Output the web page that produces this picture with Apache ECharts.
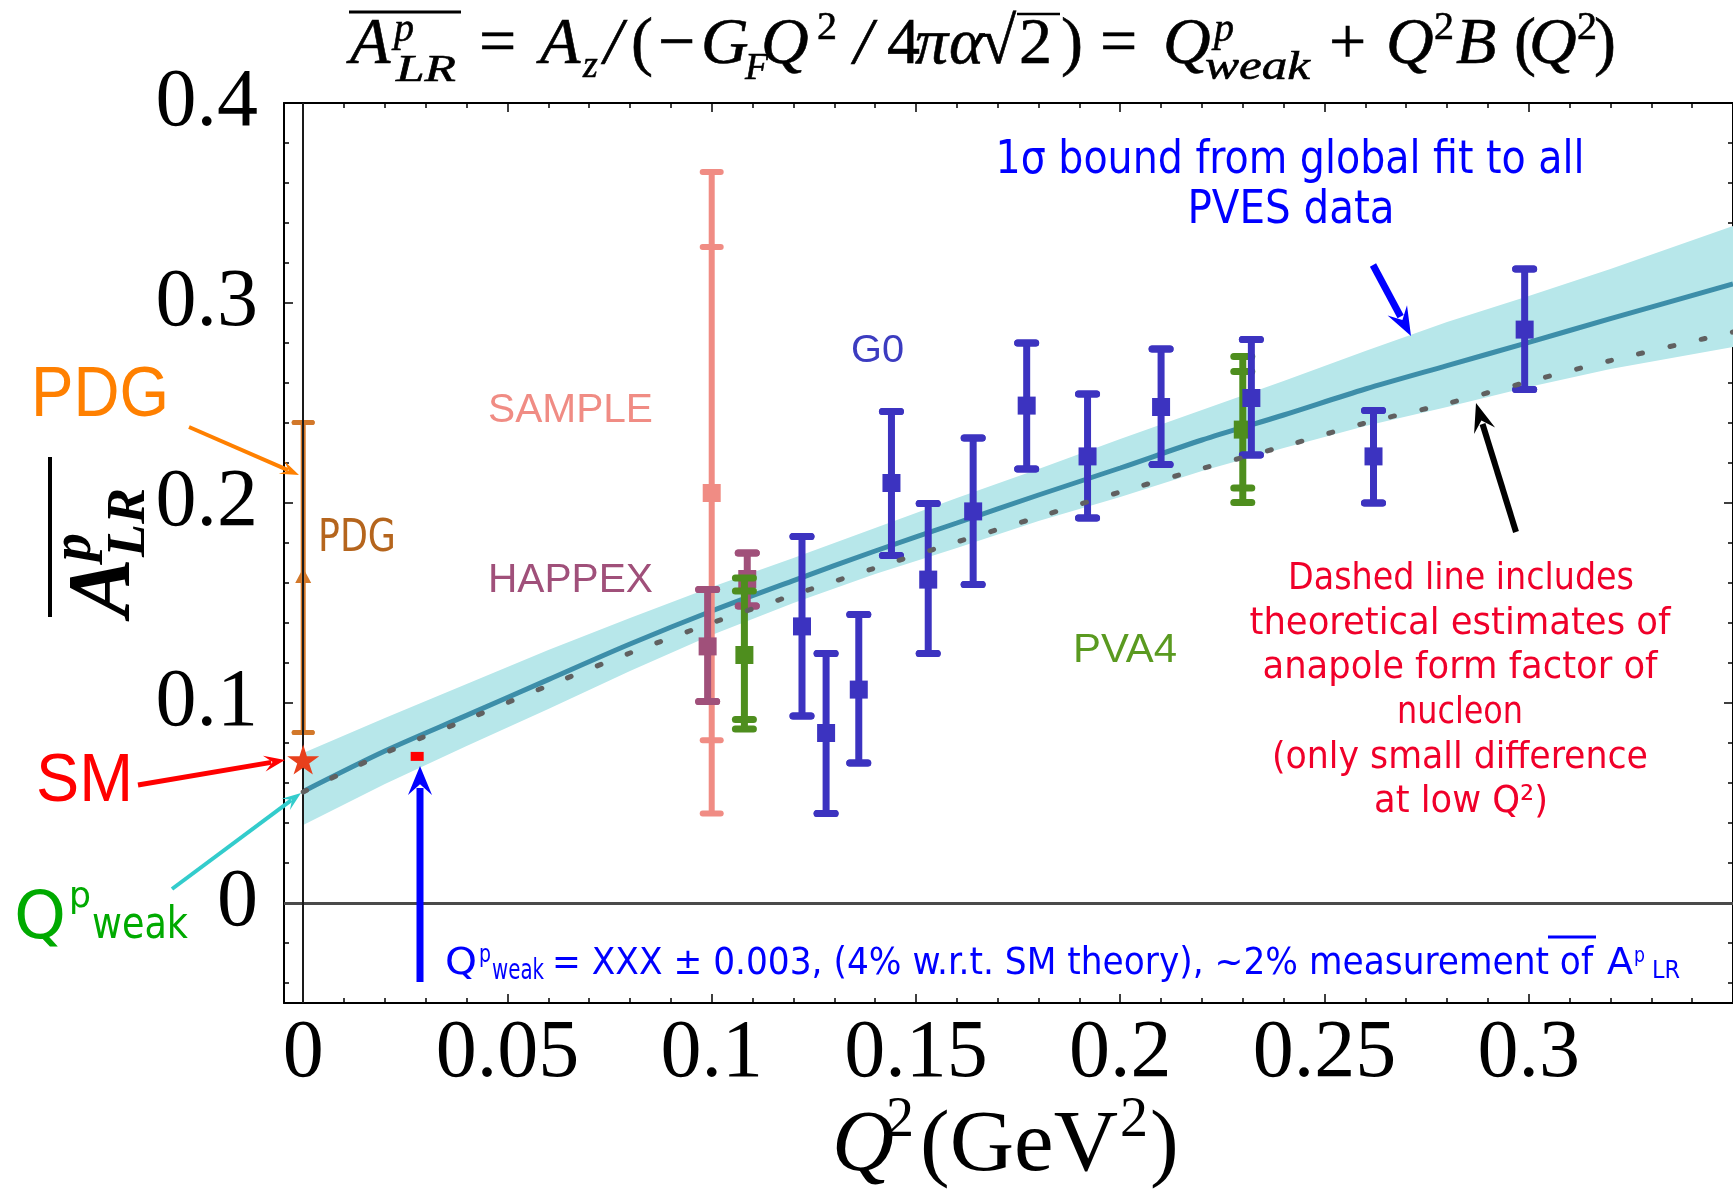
<!DOCTYPE html>
<html><head><meta charset="utf-8">
<script src="https://cdn.jsdelivr.net/npm/echarts@6/dist/echarts.min.js"></script>
<style>html,body{margin:0;padding:0;background:#fff}#c{width:1733px;height:1189px}</style>
</head><body><div id="c"></div>
<script>
// ---------------- data ----------------
const xTickValues = [0, 0.05, 0.1, 0.15, 0.2, 0.25, 0.3];
const xTickLabels = ['0', '0.05', '0.1', '0.15', '0.2', '0.25', '0.3'];
const xMinorTicks = [0.01,0.02,0.03,0.04,0.06,0.07,0.08,0.09,0.11,0.12,0.13,0.14,0.16,0.17,0.18,0.19,0.21,0.22,0.23,0.24,0.26,0.27,0.28,0.29,0.31,0.32,0.33,0.34];
const yTickValues = [0, 0.1, 0.2, 0.3, 0.4];
const yTickLabels = ['0', '0.1', '0.2', '0.3', '0.4'];
const yMinorTicks = [-0.04,-0.02,0.02,0.04,0.06,0.08,0.12,0.14,0.16,0.18,0.22,0.24,0.26,0.28,0.32,0.34,0.36,0.38];

// global fit curve (Q^2, value) and 1 sigma band
const curveX    = [0, 0.02, 0.04, 0.06, 0.08, 0.10, 0.12, 0.14, 0.16, 0.18, 0.20, 0.22, 0.24, 0.26, 0.28, 0.30, 0.32, 0.35];
const fitCenter = [0.0558,0.0760,0.0938,0.1117,0.1295,0.1460,0.1612,0.1760,0.1900,0.2040,0.2175,0.2315,0.2440,0.2570,0.2687,0.2803,0.2922,0.3095];
const fitUpper  = [0.0750,0.0925,0.1095,0.1265,0.1425,0.1580,0.1725,0.1875,0.2025,0.2170,0.2320,0.2465,0.2610,0.2760,0.2905,0.3035,0.3170,0.3385];
const fitLower  = [0.0390,0.0595,0.0785,0.0970,0.1160,0.1340,0.1500,0.1645,0.1775,0.1910,0.2030,0.2160,0.2275,0.2385,0.2480,0.2580,0.2670,0.2780];
// dashed curve with anapole estimates
const anapoleY  = [0.0555,0.0750,0.0917,0.1087,0.1250,0.1400,0.1540,0.1675,0.1805,0.1930,0.2055,0.2172,0.2283,0.2400,0.2497,0.2607,0.2712,0.2855];

// measurements: [Q2, value, lowA, highA, lowB, highB]
const samplePts = [[0.1000, 0.2050, 0.0814, 0.3280, 0.0448, 0.3655]];
const happexPts = [[0.0990, 0.1283, 0.1008, 0.1567], [0.1087, 0.1620, 0.1485, 0.1750]];
const pva4Pts   = [[0.1080, 0.1240, 0.0917, 0.1560, 0.0870, 0.1625], [0.2300, 0.2367, 0.2075, 0.2658, 0.2003, 0.2733]];
const g0Pts = [
  [0.1221, 0.1383, 0.0935, 0.1833],
  [0.1280, 0.0850, 0.0448, 0.1247],
  [0.1360, 0.1067, 0.0700, 0.1442],
  [0.1440, 0.2100, 0.1737, 0.2458],
  [0.1530, 0.1617, 0.1247, 0.1997],
  [0.1640, 0.1958, 0.1592, 0.2325],
  [0.1771, 0.2487, 0.2170, 0.2800],
  [0.1920, 0.2233, 0.1925, 0.2545],
  [0.2100, 0.2480, 0.2192, 0.2770],
  [0.2321, 0.2525, 0.2240, 0.2817],
  [0.2620, 0.2233, 0.2000, 0.2463],
  [0.2990, 0.2867, 0.2567, 0.3170]
];
const pdgPts = [[0, 0.1630, 0.0853, 0.2403]];
const smPoint = [[0, 0.0717]];
const qweakPoint = [[0.0279, 0.0733]];

// ---------------- helpers ----------------
const X_MIN = -0.0047, X_MAX = 0.35, Y_MIN = -0.05, Y_MAX = 0.4;
const SERIF = '"Liberation Serif", "DejaVu Serif", serif';
const SANS = '"Liberation Sans", Arial, sans-serif';
const COMIC = '"DejaVu Sans Condensed", "DejaVu Sans", sans-serif';
const mctx = document.createElement('canvas').getContext('2d');
function fontStr(size, o) { return (o.style || 'normal') + ' ' + (o.weight || 'normal') + ' ' + size + 'px ' + (o.family || SERIF); }
function T(x, base, text, size, o) {
  o = o || {};
  const font = fontStr(size, o);
  let sx = 1;
  if (o.w) { mctx.font = font; sx = o.w / mctx.measureText(text).width; }
  const k = (o.family === COMIC) ? 0.24 : 0.30;
  const st = { text: text, x: 0, y: 0, fill: o.color || '#000', font: font, align: o.align || 'left', verticalAlign: 'middle' };
  if (o.bold) { st.stroke = o.color || '#000'; st.lineWidth = o.bold; }
  return { type: 'text', x: x, y: base - k * size, scaleX: sx, z: 100, silent: true, style: st };
}
function L(x1, y1, x2, y2, color, w) {
  return { type: 'line', z: 100, silent: true, shape: { x1, y1, x2, y2 }, style: { stroke: color, lineWidth: w } };
}
function arrow(x1, y1, x2, y2, color, lw, hl, hw) {
  const dx = x2 - x1, dy = y2 - y1, len = Math.hypot(dx, dy), ux = dx / len, uy = dy / len;
  const bx = x2 - ux * hl, by = y2 - uy * hl, px = -uy, py = ux;
  return [
    L(x1, y1, bx + ux * 4, by + uy * 4, color, lw),
    { type: 'polygon', z: 100, silent: true, shape: { points: [[x2, y2], [bx + px * hw - ux * 3, by + py * hw - uy * 3], [bx + ux * hl * 0.3, by + uy * hl * 0.3], [bx - px * hw - ux * 3, by - py * hw - uy * 3]] }, style: { fill: color } }
  ];
}
function nearestLabel(vals, labels, v) {
  let bi = 0; vals.forEach((t, i) => { if (Math.abs(t - v) < Math.abs(vals[bi] - v)) bi = i; });
  return labels[bi];
}
function errRender(color, lw, capHalf, marker) {
  return function (params, api) {
    const x = api.value(0), y = api.value(1);
    const caps = [api.value(2), api.value(3), api.value(4), api.value(5)].filter(v => typeof v === 'number' && !isNaN(v));
    const lo = Math.min.apply(null, caps), hi = Math.max.apply(null, caps);
    const pLo = api.coord([x, lo]), pHi = api.coord([x, hi]), pc = api.coord([x, y]);
    const ch = [{ type: 'line', shape: { x1: pLo[0], y1: pLo[1], x2: pHi[0], y2: pHi[1] }, style: { stroke: color, lineWidth: lw } }];
    caps.forEach(v => { const p = api.coord([x, v]); ch.push({ type: 'line', shape: { x1: p[0] - capHalf, y1: p[1], x2: p[0] + capHalf, y2: p[1] }, style: { stroke: color, lineWidth: lw, lineCap: 'round' } }); });
    if (marker === 'tri') {
      ch.push({ type: 'polygon', shape: { points: [[pc[0], pc[1] - 9], [pc[0] - 8, pc[1] + 6], [pc[0] + 8, pc[1] + 6]] }, style: { fill: color } });
    } else {
      ch.push({ type: 'rect', shape: { x: pc[0] - 9, y: pc[1] - 9, width: 18, height: 18 }, style: { fill: color } });
    }
    return { type: 'group', children: ch };
  };
}
function errSeries(name, pts, color, lw, capHalf, marker, z) {
  return { type: 'custom', name: name, coordinateSystem: 'cartesian2d', xAxisIndex: 0, yAxisIndex: 0, z: z, silent: true,
    dimensions: ['x', 'y', 'a', 'b', 'c', 'd'], encode: { x: 0, y: 1 },
    data: pts.map(p => [p[0], p[1], p[2], p[3], p.length > 4 ? p[4] : p[2], p.length > 5 ? p[5] : p[3]]),
    renderItem: errRender(color, lw, capHalf, marker) };
}
function xAx(grid, pos, ticks, len, line, labels) {
  return { type: 'value', gridIndex: grid, position: pos, min: X_MIN, max: X_MAX,
    axisLine: { show: line, onZero: false, lineStyle: { color: '#000', width: 2 } },
    axisTick: { show: true, inside: true, length: len, customValues: ticks, lineStyle: { color: '#000', width: 1.5 } },
    axisLabel: labels ? { show: true, customValues: xTickValues, formatter: v => nearestLabel(xTickValues, xTickLabels, v),
      fontFamily: SERIF, fontSize: 82, color: '#000', margin: 51, verticalAlign: 'middle' } : { show: false },
    splitLine: { show: false } };
}
function yAx(grid, pos, ticks, len, line, labels) {
  return { type: 'value', gridIndex: grid, position: pos, min: Y_MIN, max: Y_MAX,
    axisLine: { show: line, onZero: false, lineStyle: { color: '#000', width: 2 } },
    axisTick: { show: true, inside: true, length: len, customValues: ticks, lineStyle: { color: '#000', width: 1.5 } },
    axisLabel: labels ? { show: true, customValues: yTickValues, formatter: v => nearestLabel(yTickValues, yTickLabels, v),
      fontFamily: SERIF, fontSize: 82, color: '#000', margin: 26, verticalAlign: 'middle', padding: [0, 0, 16, 0] } : { show: false },
    splitLine: { show: false } };
}

// ---------------- annotations ----------------
const G = [];
// title
const titleTokens = [
  ['A', 350, 65, 66, 'italic'], ['p', 394, 42, 40, 'italic'], ['LR', 396, 82, 38, 'italic', 60],
  ['=', 479, 65, 66, 'normal'], ['A', 540, 65, 66, 'italic'], ['z', 583, 78, 38, 'italic'],
  ['/', 604, 65, 66, 'italic'], ['(', 631, 65, 66, 'normal'], ['\u2212', 658, 65, 66, 'normal'],
  ['G', 701, 65, 66, 'italic'], ['F', 745, 80, 38, 'italic'], ['Q', 761, 65, 66, 'italic'],
  ['2', 817, 40, 40, 'normal'], ['/', 854, 65, 66, 'italic'], ['4', 887, 65, 66, 'normal'],
  ['\u03c0', 915, 65, 66, 'italic'], ['\u03b1', 949, 65, 66, 'italic'], ['\u221a', 980, 65, 66, 'normal'],
  ['2', 1019, 65, 66, 'normal'], [')', 1061, 65, 66, 'normal'], ['=', 1100, 65, 66, 'normal'],
  ['Q', 1163, 65, 66, 'italic'], ['p', 1214, 42, 40, 'italic'], ['weak', 1205, 80, 40, 'italic', 105],
  ['+', 1329, 65, 66, 'normal'], ['Q', 1386, 65, 66, 'italic'], ['2', 1434, 40, 40, 'normal'],
  ['B', 1456, 65, 66, 'italic'], ['(', 1514, 65, 66, 'normal'], ['Q', 1529, 65, 66, 'italic'],
  ['2', 1577, 40, 40, 'normal'], [')', 1594, 65, 66, 'normal']
];
titleTokens.forEach(t => G.push(T(t[1], t[2], t[0], t[3], { style: t[4], w: t[5], bold: 0.6 })));
G.push(L(349, 12, 461, 12, '#000', 3));
G.push(L(1017, 14, 1060, 14, '#000', 2.5));

// y axis title (rotated)
G.push({ type: 'group', x: 132, y: 617, rotation: Math.PI / 2, z: 100, silent: true, children: [
  T(0, 0, 'A', 88, { style: 'italic', weight: 'bold' }),
  T(56, -40, 'p', 56, { style: 'italic', weight: 'bold' }),
  T(60, 14, 'LR', 54, { style: 'italic', weight: 'bold' }),
  { type: 'line', shape: { x1: 0, y1: -82, x2: 160, y2: -82 }, style: { stroke: '#000', lineWidth: 4 } }
] });

// x axis title
G.push(T(832, 1173, 'Q', 86, { style: 'italic' }));
G.push(T(886, 1138, '2', 56));
G.push(T(920, 1173, '(GeV', 86, { w: 198 }));
G.push(T(1120, 1138, '2', 56));
G.push(T(1150, 1173, ')', 86));

// experiment labels
G.push(T(488, 423, 'SAMPLE', 40, { family: SANS, color: '#f08c84', w: 165 }));
G.push(T(488, 593, 'HAPPEX', 40, { family: SANS, color: '#a0507a', w: 165 }));
G.push(T(851, 363, 'G0', 38, { family: SANS, color: '#3c3cc0', w: 53 }));
G.push(T(1073, 663, 'PVA4', 40, { family: SANS, color: '#5a9a20', w: 104 }));
G.push(T(318, 550, 'PDG', 44, { family: COMIC, color: '#b5651d', w: 78 }));

// left side labels
G.push(T(31, 418, 'PDG', 70, { family: SANS, color: '#ff8000', w: 138 }));
G.push(T(36, 803, 'SM', 68, { family: SANS, color: '#ff0000', w: 97 }));
G.push(T(14, 937, 'Q', 66, { family: COMIC, color: '#00aa00', w: 52 }));
G.push(T(69, 906, 'p', 36, { family: COMIC, color: '#00aa00', w: 22 }));
G.push(T(92, 937, 'weak', 44, { family: COMIC, color: '#00aa00', w: 96 }));

// arrows
G.push(...arrow(189, 427, 299, 475, '#ff8000', 4, 16, 7));
G.push(...arrow(138, 785, 285, 760, '#ff0000', 5, 18, 8));
G.push(...arrow(172, 889, 301, 793, '#33cccc', 4, 16, 7));
G.push(...arrow(420, 982, 420, 766, '#0000ff', 7, 26, 12));
G.push(...arrow(1373, 265, 1411, 336, '#0000ff', 7, 26, 11));
G.push(...arrow(1516, 532, 1476, 403, '#000000', 6, 26, 11));

// blue text top
G.push(T(1290, 172, '1\u03c3 bound from global fit to all', 46, { family: COMIC, color: '#0000ff', w: 589, align: 'center' }));
G.push(T(1291, 222, 'PVES data', 46, { family: COMIC, color: '#0000ff', w: 207, align: 'center' }));

// red text block
const redLines = [
  ['Dashed line includes', 1461, 588, 346],
  ['theoretical estimates of', 1460, 633, 421],
  ['anapole form factor of', 1460, 677, 395],
  ['nucleon', 1460, 722, 126],
  ['(only small difference', 1460, 767, 376],
  ['at low Q\u00b2)', 1461, 811, 174]
];
redLines.forEach(r => G.push(T(r[1], r[2], r[0], 38, { family: COMIC, color: '#f0002a', w: r[3], align: 'center' })));

// blue text bottom
G.push(T(445, 973, 'Q', 38, { family: COMIC, color: '#0000ff', w: 32 }));
G.push(T(479, 962, 'p', 24, { family: COMIC, color: '#0000ff', w: 12 }));
G.push(T(492, 978, 'weak', 28, { family: COMIC, color: '#0000ff', w: 52 }));
G.push(T(552, 973, '= XXX \u00b1 0.003, (4% w.r.t. SM theory), ~2% measurement of', 37, { family: COMIC, color: '#0000ff', w: 1041 }));
G.push(L(1548, 937, 1596, 937, '#0000ff', 3));
G.push(T(1607, 973, 'A', 37, { family: COMIC, color: '#0000ff', w: 26 }));
G.push(T(1634, 962, 'p', 22, { family: COMIC, color: '#0000ff', w: 11 }));
G.push(T(1652, 978, 'LR', 24, { family: COMIC, color: '#0000ff', w: 28 }));

// ---------------- chart ----------------
const chart = echarts.init(document.getElementById('c'), null, { renderer: 'canvas', width: 1733, height: 1189 });
const gridBox = { left: 284, top: 103, right: -7, bottom: 186, containLabel: false };
chart.setOption({
  animation: false,
  backgroundColor: '#ffffff',
  grid: [Object.assign({}, gridBox), Object.assign({}, gridBox)],
  xAxis: [
    xAx(0, 'bottom', xTickValues, 9, true, true),
    xAx(0, 'top', xTickValues, 9, true, false),
    xAx(1, 'bottom', xMinorTicks, 5, false, false),
    xAx(1, 'top', xMinorTicks, 5, false, false)
  ],
  yAxis: [
    yAx(0, 'left', yTickValues, 9, true, true),
    yAx(0, 'right', yTickValues, 9, true, false),
    yAx(1, 'left', yMinorTicks, 5, false, false),
    yAx(1, 'right', yMinorTicks, 5, false, false)
  ],
  series: [
    { type: 'custom', name: 'band', coordinateSystem: 'cartesian2d', xAxisIndex: 0, yAxisIndex: 0, z: 1, silent: true,
      data: [[0, 0.1]], encode: { x: 0, y: 1 },
      renderItem: function (params, api) {
        const pts = [];
        for (let i = 0; i < curveX.length; i++) pts.push(api.coord([curveX[i], fitUpper[i]]));
        for (let i = curveX.length - 1; i >= 0; i--) pts.push(api.coord([curveX[i], fitLower[i]]));
        return { type: 'polygon', shape: { points: pts }, style: { fill: '#b7e7ea' } };
      },
      markLine: { silent: true, symbol: 'none', label: { show: false }, animation: false,
        data: [
          { yAxis: 0, lineStyle: { color: '#4a4a4a', width: 3, type: 'solid' } },
          { xAxis: 0, lineStyle: { color: '#1a1a1a', width: 2, type: 'solid' } }
        ] } },
    { type: 'line', name: 'fit', xAxisIndex: 0, yAxisIndex: 0, z: 2, silent: true, smooth: 0.3, symbol: 'none',
      data: curveX.map((x, i) => [x, fitCenter[i]]), lineStyle: { color: '#3d8ea9', width: 5 } },
    errSeries('SAMPLE', samplePts, '#f08c84', 6, 9, 'sq', 3),
    errSeries('PDG', pdgPts, '#d2782a', 5, 9, 'tri', 3),
    errSeries('HAPPEX', happexPts, '#a0507a', 7, 9, 'sq', 4),
    errSeries('PVA4', pva4Pts, '#4e8e1e', 7, 9, 'sq', 5),
    errSeries('G0', g0Pts, '#3c33c0', 7, 9, 'sq', 6),
    { type: 'line', name: 'anapole', xAxisIndex: 0, yAxisIndex: 0, z: 7, silent: true, smooth: 0.3, symbol: 'none',
      data: curveX.map((x, i) => [x, anapoleY[i]]),
      lineStyle: { color: '#606060', width: 5, type: [4, 28], cap: 'round' } },
    { type: 'scatter', name: 'SM', xAxisIndex: 0, yAxisIndex: 0, z: 8, silent: true, data: smPoint,
      symbol: 'path://M50,0 L61,35 L98,35 L68,57 L79,91 L50,70 L21,91 L32,57 L2,35 L39,35 Z', symbolSize: [32, 30],
      itemStyle: { color: '#e8401c', opacity: 1 } },
    { type: 'scatter', name: 'Qweak', xAxisIndex: 0, yAxisIndex: 0, z: 8, silent: true, data: qweakPoint,
      symbol: 'rect', symbolSize: [13, 9], itemStyle: { color: '#ff0000', opacity: 1 } }
  ],
  graphic: { elements: G }
});
</script>
</body></html>
